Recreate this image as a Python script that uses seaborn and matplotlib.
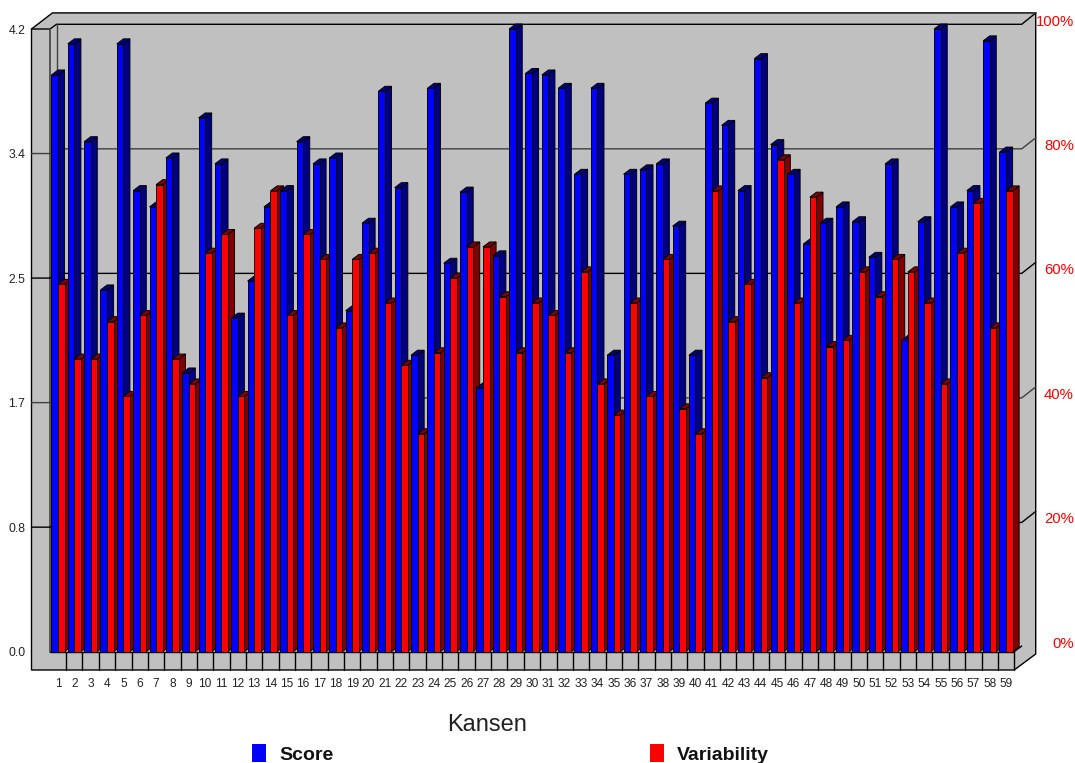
import numpy as np
import pandas as pd
import matplotlib
matplotlib.use('Agg')
import matplotlib.pyplot as plt
import seaborn as sns
from matplotlib.patches import Polygon

W, H = 1075, 763
MAX_SCORE = 4.2

kansen = [str(i) for i in range(1, 60)]
score = [3.89, 4.10, 3.44, 2.44, 4.10, 3.11, 3.00, 3.33, 1.88, 3.60,
         3.29, 2.25, 2.50, 3.00, 3.11, 3.44, 3.29, 3.33, 2.30, 2.89,
         3.78, 3.13, 2.00, 3.80, 2.62, 3.10, 1.78, 2.67, 4.20, 3.90,
         3.89, 3.80, 3.22, 3.80, 2.00, 3.22, 3.25, 3.29, 2.87, 2.00,
         3.70, 3.55, 3.11, 4.00, 3.42, 3.22, 2.75, 2.89, 3.00, 2.90,
         2.66, 3.29, 2.10, 2.90, 4.20, 3.00, 3.11, 4.12, 3.37]
variability = [59, 47, 47, 53, 41, 54, 75, 47, 43, 64,
               67, 41, 68, 74, 54, 67, 63, 52, 63, 64,
               56, 46, 35, 48, 60, 65, 65, 57, 48, 56,
               54, 48, 61, 43, 38, 56, 41, 63, 39, 35,
               74, 53, 59, 44, 79, 56, 73, 49, 50, 61,
               57, 63, 61, 56, 43, 64, 72, 52, 74]
score_ticks = [0.0, 0.84, 1.68, 2.52, 3.36, 4.2]
pct_ticks = [0, 20, 40, 60, 80, 100]

GREY = '#C0C0C0'
DARK = '#404040'
BLUE, BLUE_DARK = '#0000FF', '#000080'
RED, RED_DARK = '#FF0000', '#800000'

# pixel layout of the fake 3d box
LEFT, RIGHT, TOP, BOTTOM = 49.8, 1014.2, 29.0, 651.7
DEPTH_X, DEPTH_Y = 6.6, 5.0


def px_axes(fig, left, top, right, bottom):
    return fig.add_axes([left / W, 1 - bottom / H, (right - left) / W, (bottom - top) / H])


def draw_box(bg):
    outline = [(31.5, 29), (52.7, 12.7), (1035.7, 12.7), (1035.7, 654), (1014.2, 670), (31.5, 670)]
    bg.add_patch(Polygon(outline, closed=True, fc=GREY, ec='black', lw=1))
    bg.plot([31.5, 50, 56.5, 1021.7, 1035.7], [29, 29, 24.3, 24.3, 13], color='black', lw=1)
    bg.plot([52.7, 1035.7], [12.7, 12.7], color=DARK, lw=1.2)
    bg.plot([50, 50], [29, BOTTOM], color=DARK, lw=1.2)
    bg.plot([56.5, 56.5], [24.3, 646], color=DARK, lw=1)
    bg.plot([50, 1014.2], [BOTTOM, BOTTOM], color='black', lw=1)
    bg.plot([1014.2, 1021.7], [BOTTOM, 646], color='black', lw=1)
    bg.plot([1014.2, 1014.2], [BOTTOM, 670], color='black', lw=1)

    # gridlines run across left wall, back wall and right wall
    step = (BOTTOM - TOP) / 5
    for i in range(1, 5):
        y = TOP + i * step
        bg.plot([31.5, 50, 56.5, 1021.7, 1035.7],
                [y, y, y - 4.7, y - 4.7, y - 15.7], color='black' if i % 2 == 0 else DARK, lw=1)

    for x in np.linspace(LEFT, RIGHT, 60)[1:-1]:
        bg.plot([x, x], [BOTTOM, 670], color='black', lw=1)


def add_depth(ax, bar, side_color, z):
    # side and top face of one bar, offset from the bar that seaborn drew
    x, y = bar.get_x(), bar.get_y()
    w, h = bar.get_width(), bar.get_height()
    dx = DEPTH_X * len(kansen) / (RIGHT - LEFT)
    dy = DEPTH_Y * MAX_SCORE / (BOTTOM - TOP)
    side = [(x + w, y), (x + w + dx, y + dy), (x + w + dx, h + dy), (x + w, h)]
    top = [(x, h), (x + dx, h + dy), (x + w + dx, h + dy), (x + w, h)]
    for pts in (side, top):
        ax.add_patch(Polygon(pts, closed=True, fc=side_color, ec='black', lw=0.65,
                             zorder=z, clip_on=False))
    bar.set_zorder(z + 0.5)


sns.set_theme(style='white')
plt.rcParams['font.family'] = ['Liberation Sans', 'DejaVu Sans']

df = pd.DataFrame({
    'kans': kansen * 2,
    'series': ['Score'] * len(kansen) + ['Variability'] * len(kansen),
    # variability has its own 0-100% scale on the same plane
    'value': score + [v / 100 * MAX_SCORE for v in variability],
})

fig = plt.figure(figsize=(W / 100, H / 100), dpi=100)

bg = fig.add_axes([0, 0, 1, 1])
bg.set_xlim(0, W)
bg.set_ylim(H, 0)
bg.axis('off')
draw_box(bg)

ax = px_axes(fig, LEFT, TOP, RIGHT, BOTTOM)
ax.patch.set_alpha(0)
sns.barplot(data=df, x='kans', y='value', hue='series', order=kansen,
            palette={'Score': BLUE, 'Variability': RED}, saturation=1, width=0.8, gap=0,
            edgecolor='black', linewidth=0.65, legend=False, ax=ax)
ax.set_xlim(-0.5, len(kansen) - 0.5)
ax.set_ylim(0, MAX_SCORE)
sns.despine(ax=ax, left=True, bottom=True)

for i, (blue, red) in enumerate(zip(ax.containers[0], ax.containers[1])):
    add_depth(ax, blue, BLUE_DARK, 10 + 2 * i)
    add_depth(ax, red, RED_DARK, 11 + 2 * i)
    blue.set_clip_on(False)
    red.set_clip_on(False)

ax.set_yticks(score_ticks)
ax.set_yticklabels([f'{t:.1f}' for t in score_ticks], fontsize=8.8, color='#222222')
ax.tick_params(axis='y', length=0, pad=17.5)
ax.tick_params(axis='x', length=0, pad=18.6, labelsize=8.6, labelcolor='#222222')
ax.set_ylabel('')
ax.set_xlabel('Kansen', fontsize=17, color='#222222', va='center')
ax.xaxis.set_label_coords((487 - LEFT) / (RIGHT - LEFT), -(725 - BOTTOM) / (BOTTOM - TOP))

# right hand percent scale sits a bit higher than the bars
ax2 = px_axes(fig, 1000, 20, 1036, 642)
ax2.patch.set_alpha(0)
ax2.set_ylim(0, 100)
ax2.set_xticks([])
ax2.yaxis.tick_right()
ax2.set_yticks(pct_ticks)
ax2.set_yticklabels([f'{t}%' for t in pct_ticks], fontsize=10.7, color=RED, ha='right')
ax2.tick_params(axis='y', length=0, pad=27.2)
sns.despine(ax=ax2, left=True, bottom=True, right=True)

leg = ax.legend([ax.containers[0][0], ax.containers[1][0]], ['Score', 'Variability'],
                ncol=2, frameon=False, loc='lower left',
                bbox_to_anchor=(252 / W, -1 / H), bbox_transform=fig.transFigure,
                prop={'weight': 'bold', 'size': 14},
                handlelength=0.72, handleheight=1.03, handletextpad=0.67,
                columnspacing=16.3, borderpad=0, borderaxespad=0)
for t in leg.get_texts():
    t.set_color('#111111')
for h in leg.legend_handles:
    h.set_edgecolor('none')

fig.savefig('out.png', dpi=100)
